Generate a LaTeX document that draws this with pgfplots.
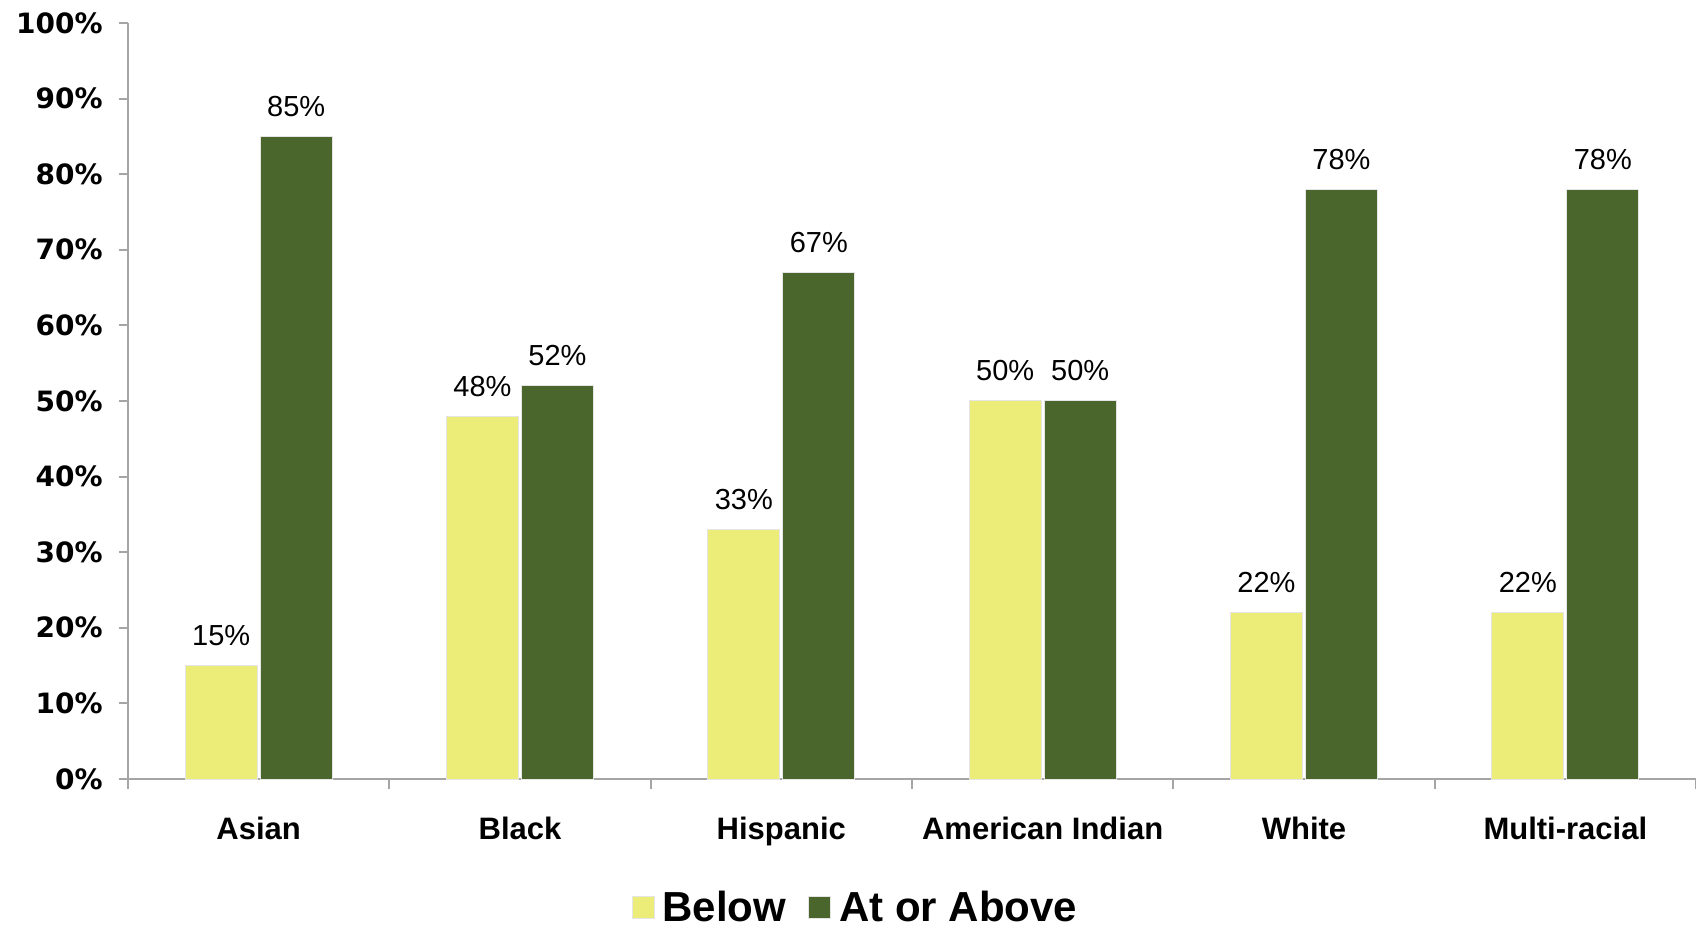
\documentclass[border=0pt]{standalone}
\usepackage{fontspec}
\setmainfont{Liberation Sans}
\newfontfamily\dejavu{DejaVu Sans}
\usepackage{pgfplots}
\pgfplotsset{compat=1.18}
\definecolor{belowc}{RGB}{236,236,120}
\definecolor{abovec}{RGB}{74,102,44}
\definecolor{axgray}{RGB}{165,165,165}

\begin{document}
\begin{tikzpicture}
\useasboundingbox (-64bp,-75.5bp) rectangle (784bp,389.5bp);
\begin{axis}[
    at={(0,0)}, anchor=south west,
    scale only axis, width=784bp, height=378bp,
    ybar=1.5bp, bar width=36bp,
    xmin=-0.5, xmax=5.5, ymin=0, ymax=100,
    axis x line*=bottom, axis y line*=left,
    axis line style={axgray, line width=1bp},
    tick style={axgray, line width=1bp},
    tick align=outside,
    major tick length=4.5bp, minor tick length=5bp,
    xtick={0,...,5},
    xticklabels={Asian, Black, Hispanic, American Indian, White, Multi-racial},
    major x tick style={draw=none},
    minor xtick={-0.5,0.5,...,5.5},
    ytick={0,10,...,100},
    yticklabels={0\%,10\%,20\%,30\%,40\%,50\%,60\%,70\%,80\%,90\%,100\%},
    xticklabel style={font=\bfseries\fontsize{15.5bp}{18bp}\selectfont, anchor=base, yshift=-25.8bp},
    yticklabel style={font=\dejavu\bfseries\fontsize{14bp}{16bp}\selectfont, anchor=east, inner sep=0pt, xshift=-8bp},
    /pgf/number format/assume math mode=true,
    nodes near coords={\pgfmathprintnumber{\pgfplotspointmeta}\%},
    every node near coord/.append style={font=\fontsize{14.5bp}{17bp}\selectfont, anchor=base, inner sep=0pt, yshift=10bp, black},
    legend style={at={(0.4645,-0.1705)}, anchor=center, draw=none, fill=none,
        legend columns=2, font=\bfseries\fontsize{21bp}{24bp}\selectfont,
        /tikz/every even column/.append style={column sep=9bp}},
    legend image code/.code={\fill[#1] (0bp,-5.5bp) rectangle (11bp,5.5bp); \path (13bp,0bp);},
]
\addplot[fill=belowc, draw=black!10, line width=0.5bp] coordinates {
    (0,15) (1,48) (2,33) (3,50) (4,22) (5,22)
};
\addplot[fill=abovec, draw=black!10, line width=0.5bp] coordinates {
    (0,85) (1,52) (2,67) (3,50) (4,78) (5,78)
};
\legend{Below, At or Above}
\end{axis}
\end{tikzpicture}
\end{document}
